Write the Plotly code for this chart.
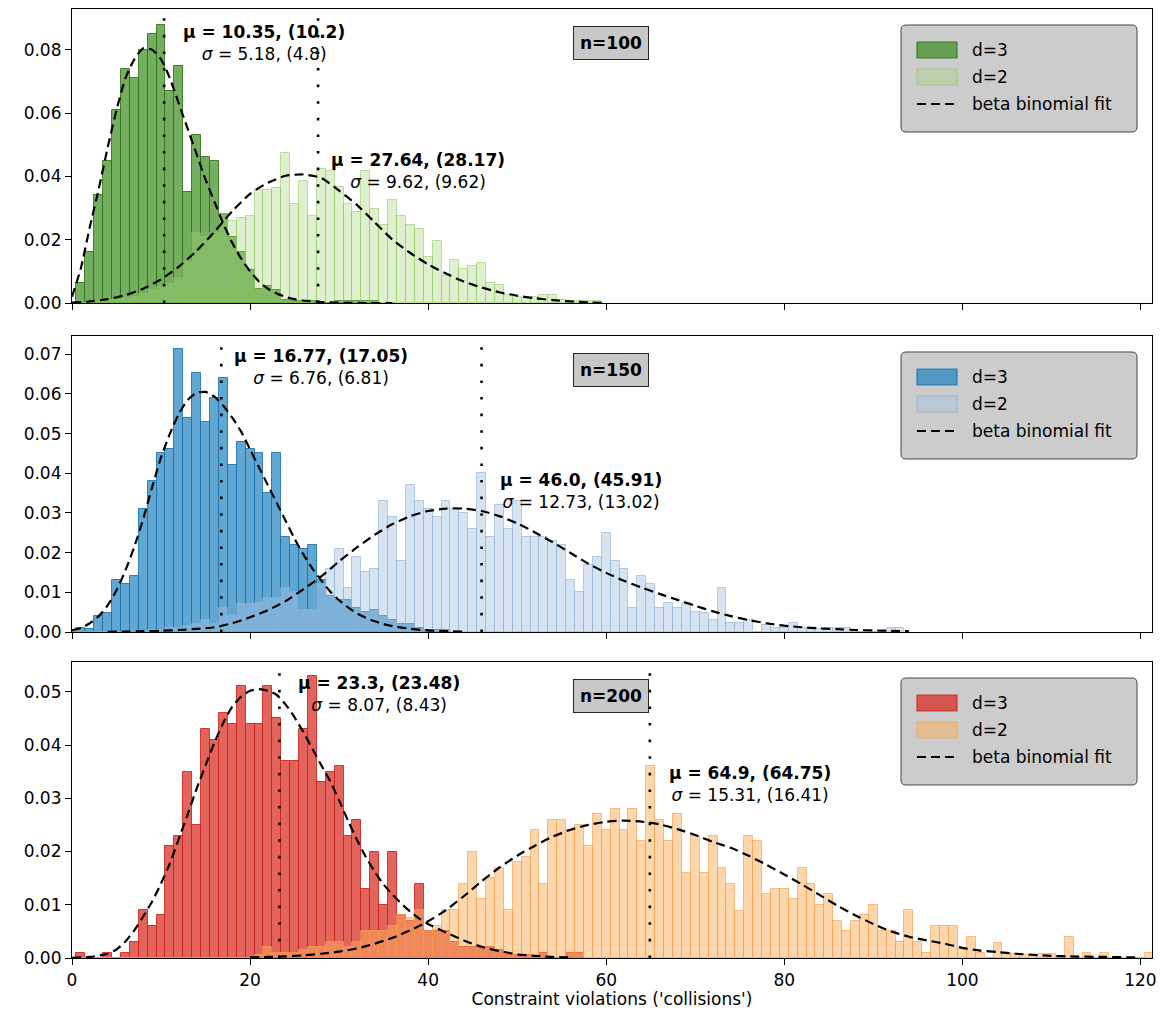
import plotly.graph_objects as go

# ---------------- data ----------------
# histogram heights per integer bin (bin k centred on k), k = 0, 1, 2, ...
p1_d3 = [0, 0.0063, 0.016, 0.034, 0.045, 0.061, 0.074, 0.071, 0.080, 0.085, 0.088, 0.067,
         0.075, 0.035, 0.053, 0.046, 0.045, 0.028, 0.021, 0.016, 0.0105, 0.0045, 0.0055,
         0.004, 0.001, 0.0006, 0.0006, 0.0006, 0, 0, 0.0006, 0.0006, 0.0006, 0.0006, 0.0006]
p1_d2 = [0, 0, 0, 0.0005, 0.001, 0.001, 0.0015, 0.002, 0.003, 0.004, 0.005, 0.006, 0.008,
         0.013, 0.022, 0.021, 0.022, 0.028, 0.026, 0.027, 0.0274, 0.0356, 0.0356, 0.0364,
         0.0475, 0.0314, 0.0384, 0.0276, 0.0424, 0.0416, 0.0366, 0.0314, 0.0287, 0.0416,
         0.0296, 0.0245, 0.0324, 0.0274, 0.0245, 0.0234, 0.0146, 0.0196, 0.0085, 0.0135,
         0.0106, 0.0117, 0.0125, 0.0064, 0.0056, 0.0025, 0.002, 0.0015, 0.002, 0.0025,
         0.0025, 0.001, 0.0005, 0.0005, 0.0005, 0.0005]
p2_d3 = [0, 0.0009, 0.0007, 0.004, 0.0049, 0.013, 0.012, 0.014, 0.031, 0.038, 0.045, 0.046,
         0.0713, 0.054, 0.0653, 0.053, 0.059, 0.064, 0.042, 0.048, 0.046, 0.045, 0.035,
         0.045, 0.024, 0.022, 0.021, 0.022, 0.013, 0.009, 0.008, 0.008, 0.006, 0.005,
         0.0055, 0.004, 0.003, 0.002, 0.002, 0.001, 0.0005, 0.0005, 0.0005]
p2_d2 = [0, 0, 0, 0, 0, 0, 0, 0, 0, 0.0005, 0.0005, 0.001, 0.001, 0.0015, 0.002, 0.003,
         0.002, 0.006, 0.004, 0.007, 0.007, 0.0072, 0.0085, 0.0085, 0.011, 0.010, 0.0055,
         0.0055, 0.012, 0.016, 0.021, 0.011, 0.019, 0.015, 0.016, 0.033, 0.029, 0.018,
         0.037, 0.033, 0.031, 0.029, 0.033, 0.031, 0.030, 0.026, 0.040, 0.024, 0.032,
         0.026, 0.033, 0.024, 0.024, 0.024, 0.023, 0.022, 0.013, 0.010, 0.017, 0.019,
         0.025, 0.018, 0.016, 0.006, 0.014, 0.012, 0.006, 0.0072, 0.006, 0.0072, 0.005,
         0.0047, 0.003, 0.011, 0.0022, 0.0022, 0.003, 0, 0.0018, 0.0009, 0.0009, 0.0022,
         0.001, 0.0008, 0.0008, 0.0009, 0.0009, 0.0009, 0, 0, 0, 0, 0.001, 0.001]
p3_d3 = [0, 0.0009, 0, 0, 0.0009, 0, 0.0009, 0.003, 0.009, 0.006, 0.008, 0.021, 0.023,
         0.035, 0.025, 0.043, 0.041, 0.046, 0.044, 0.051, 0.044, 0.044, 0.051, 0.045,
         0.037, 0.037, 0.043, 0.053, 0.033, 0.035, 0.036, 0.023, 0.026, 0.013, 0.020,
         0.010, 0.020, 0.008, 0.007, 0.0139, 0.005, 0.005, 0.005, 0.003, 0.002, 0.002,
         0.002, 0.002, 0.0015, 0.0005, 0.0005, 0.0005, 0, 0.001, 0, 0, 0.001, 0.001]
p3_d2 = [0, 0, 0, 0, 0, 0, 0, 0, 0, 0, 0, 0, 0, 0, 0, 0, 0, 0, 0, 0, 0, 0.0005, 0.002,
         0.001, 0.001, 0.001, 0.0015, 0.002, 0.002, 0.003, 0.003, 0.002, 0.003, 0.005,
         0.005, 0.005, 0.006, 0.008, 0.0075, 0.009, 0.005, 0.006, 0.009, 0.009, 0.0139,
         0.020, 0.011, 0.015, 0.017, 0.009, 0.018, 0.019, 0.024, 0.0139, 0.026, 0.026,
         0.024, 0.025, 0.021, 0.027, 0.024, 0.028, 0.024, 0.028, 0.022, 0.036, 0.026,
         0.022, 0.027, 0.016, 0.023, 0.016, 0.023, 0.017, 0.0139, 0.0089, 0.023, 0.022,
         0.012, 0.013, 0.013, 0.011, 0.017, 0.0139, 0.010, 0.012, 0.007, 0.005, 0.007,
         0.008, 0.010, 0.005, 0.005, 0.003, 0.009, 0.003, 0.001, 0.006, 0.006, 0.006,
         0.0018, 0.0039, 0.001, 0, 0.0029, 0.0009, 0.0008, 0.0005, 0.0005, 0.0008, 0.0008,
         0.0003, 0.0039, 0, 0.0009, 0, 0.0009, 0, 0, 0, 0, 0.0009]

# beta binomial fit curves
p1_fit3_x = [0, 1, 2, 3, 4, 5, 6, 7, 8, 9, 10, 11, 12, 13, 14, 15, 16, 17, 18, 19, 20, 21,
             22, 23, 24, 25, 26, 28, 30, 33, 36]
p1_fit3_y = [0.002, 0.011, 0.024, 0.036, 0.049, 0.061, 0.071, 0.077, 0.0805, 0.080, 0.077,
             0.071, 0.063, 0.055, 0.047, 0.039, 0.032, 0.025, 0.019, 0.014, 0.010, 0.0068,
             0.0045, 0.0030, 0.0019, 0.0012, 0.0008, 0.0003, 0.0001, 0.0, 0.0]
p1_fit2_x = [0, 2, 4, 6, 8, 10, 12, 14, 16, 18, 20, 22, 24, 26, 28, 30, 32, 34, 36, 38, 40,
             42, 44, 46, 48, 50, 52, 54, 56, 58, 60]
p1_fit2_y = [0.0001, 0.0005, 0.0012, 0.0025, 0.0045, 0.0075, 0.0115, 0.0165, 0.0225, 0.029,
             0.0345, 0.038, 0.0402, 0.0406, 0.0395, 0.0355, 0.031, 0.0255, 0.020, 0.0158,
             0.0122, 0.0093, 0.0068, 0.0049, 0.0034, 0.0023, 0.0015, 0.0009, 0.0005, 0.0002, 0.0]
p2_fit3_x = [0, 1, 2, 3, 4, 5, 6, 7, 8, 9, 10, 11, 12, 13, 14, 15, 16, 17, 18, 19, 20, 21,
             22, 23, 24, 25, 26, 27, 28, 29, 30, 31, 32, 33, 34, 35, 36, 38, 40, 42, 44]
p2_fit3_y = [0.0004, 0.001, 0.0022, 0.004, 0.0067, 0.0105, 0.0155, 0.0215, 0.0285, 0.0365,
             0.044, 0.050, 0.055, 0.0585, 0.0603, 0.0605, 0.0593, 0.057, 0.054, 0.0505,
             0.046, 0.0415, 0.037, 0.0325, 0.028, 0.0235, 0.0195, 0.016, 0.013, 0.0102,
             0.008, 0.0062, 0.0047, 0.0036, 0.0027, 0.002, 0.0015, 0.0008, 0.0004, 0.0002, 0.0001]
p2_fit2_x = [4, 6, 8, 10, 12, 14, 16, 18, 20, 22, 24, 26, 28, 30, 32, 34, 36, 38, 40, 42, 44,
             46, 48, 50, 52, 54, 56, 58, 60, 62, 64, 66, 68, 70, 72, 74, 76, 78, 80, 82, 84,
             86, 88, 90, 92, 94]
p2_fit2_y = [0.00005, 0.0001, 0.0002, 0.0003, 0.0005, 0.0008, 0.0012, 0.0022, 0.0037, 0.0055,
             0.0078, 0.0108, 0.014, 0.0178, 0.0213, 0.0245, 0.0272, 0.0292, 0.0305, 0.0311,
             0.0311, 0.0305, 0.0292, 0.0274, 0.0251, 0.0226, 0.0199, 0.0172, 0.0149, 0.0129,
             0.0112, 0.0096, 0.0081, 0.0066, 0.0052, 0.004, 0.003, 0.0022, 0.0016, 0.0012,
             0.0009, 0.0007, 0.0005, 0.0004, 0.0003, 0.0002]
p3_fit3_x = [0, 2, 4, 5, 6, 7, 8, 9, 10, 11, 12, 13, 14, 15, 16, 17, 18, 19, 20, 21, 22, 23,
             24, 25, 26, 27, 28, 29, 30, 31, 32, 33, 34, 35, 36, 37, 38, 39, 40, 42, 44, 46,
             48, 50, 52, 54, 56]
p3_fit3_y = [0.00005, 0.0002, 0.0008, 0.0016, 0.0031, 0.0052, 0.0078, 0.0106, 0.014, 0.0178,
             0.0224, 0.027, 0.0318, 0.0362, 0.0405, 0.0442, 0.0472, 0.0491, 0.0502, 0.0505,
             0.0502, 0.0494, 0.0476, 0.0452, 0.0424, 0.0393, 0.0362, 0.0332, 0.0296, 0.0258,
             0.0222, 0.019, 0.0162, 0.0138, 0.0119, 0.0102, 0.0087, 0.0074, 0.0064, 0.0048,
             0.0033, 0.0021, 0.0013, 0.0007, 0.0004, 0.0002, 0.0001]
p3_fit2_x = [20, 22, 24, 26, 28, 30, 32, 34, 36, 38, 40, 42, 44, 46, 48, 50, 52, 54, 56, 58,
             60, 62, 64, 66, 68, 70, 72, 74, 76, 78, 80, 82, 84, 86, 88, 90, 92, 94, 96, 98,
             100, 102, 104, 106, 108, 110, 112, 116, 120]
p3_fit2_y = [0.0001, 0.0002, 0.0003, 0.0005, 0.0008, 0.0012, 0.0018, 0.0027, 0.0038, 0.0052,
             0.0069, 0.009, 0.0116, 0.0144, 0.017, 0.0192, 0.0211, 0.0228, 0.0241, 0.025,
             0.0256, 0.0258, 0.0256, 0.0251, 0.0242, 0.0231, 0.0218, 0.0207, 0.0192, 0.0175,
             0.0157, 0.0138, 0.0118, 0.0098, 0.008, 0.0064, 0.005, 0.004, 0.0033, 0.0027,
             0.0019, 0.0014, 0.0011, 0.0008, 0.0006, 0.0004, 0.0003, 0.0002, 0.0001]

# statistics: (mean, fitted mean, std, fitted std)
p1_stats3 = (10.35, 10.2, 5.18, 4.8)
p1_stats2 = (27.64, 28.17, 9.62, 9.62)
p2_stats3 = (16.77, 17.05, 6.76, 6.81)
p2_stats2 = (46.0, 45.91, 12.73, 13.02)
p3_stats3 = (23.3, 23.48, 8.07, 8.43)
p3_stats2 = (64.9, 64.75, 15.31, 16.41)

n_labels = ["n=100", "n=150", "n=200"]
series_names = ["d=3", "d=2"]
fit_name = "beta binomial fit"
x_ticks = [0, 20, 40, 60, 80, 100, 120]
x_title = "Constraint violations ('collisions')"

# ---------------- layout / style ----------------
FONT = "DejaVu Sans"
FS = 17
OFF = 8                       # default page body margin of the html page
WIN_W, WIN_H = 1169, 1017
W, H = WIN_W - 2 * OFF, WIN_H - 2 * OFF
PLOT_X0, PLOT_X1 = 72, 1152   # plot area in window pixels
PLOT_Y0, PLOT_Y1 = 9, 958
ML = PLOT_X0 - OFF
MR = W - (PLOT_X1 - OFF)
MT = PLOT_Y0 - OFF
MB = H - (PLOT_Y1 - OFF)
PW = W - ML - MR
PH = H - MT - MB
panel_px = [(9, 303), (336, 632), (662, 958)]   # (top, bottom) window pixel rows
y_tops = [0.0929, 0.0746, 0.0556]
y_dticks = [0.02, 0.01, 0.01]
X_RANGE = [0, 121.3]
ANN_DX = 11.2

styles = [
    dict(c3="rgba(60,140,30,0.70)", e3="rgba(45,115,20,0.85)",
         c2="rgba(161,212,112,0.35)", e2="rgba(140,200,95,0.55)"),
    dict(c3="rgba(30,130,190,0.70)", e3="rgba(25,115,175,0.85)",
         c2="rgba(164,193,224,0.45)", e2="rgba(140,175,215,0.6)"),
    dict(c3="rgba(215,40,30,0.72)", e3="rgba(205,35,25,0.85)",
         c2="rgba(251,173,89,0.50)", e2="rgba(245,160,80,0.65)"),
]

panels = [
    (p1_d3, p1_d2, (p1_fit3_x, p1_fit3_y), (p1_fit2_x, p1_fit2_y), p1_stats3, p1_stats2),
    (p2_d3, p2_d2, (p2_fit3_x, p2_fit3_y), (p2_fit2_x, p2_fit2_y), p2_stats3, p2_stats2),
    (p3_d3, p3_d2, (p3_fit3_x, p3_fit3_y), (p3_fit2_x, p3_fit2_y), p3_stats3, p3_stats2),
]


def px2paper(px, py):
    """window pixel -> paper fraction"""
    return (px - PLOT_X0) / PW, (PLOT_Y1 - py) / PH


def P(a, b):
    x, y = px2paper(a, b)
    return f"{x:.5f},{y:.5f}"


fig = go.Figure()
shapes, annotations = [], []

for i, (d3, d2, f3, f2, s3, s2) in enumerate(panels):
    sfx = "" if i == 0 else str(i + 1)
    xa, ya = "x" + sfx, "y" + sfx
    st = styles[i]
    fig.add_trace(go.Bar(x=list(range(len(d3))), y=d3, width=1, name=series_names[0],
                         marker=dict(color=st["c3"], line=dict(color=st["e3"], width=1)),
                         xaxis=xa, yaxis=ya, showlegend=False))
    fig.add_trace(go.Bar(x=list(range(len(d2))), y=d2, width=1, name=series_names[1],
                         marker=dict(color=st["c2"], line=dict(color=st["e2"], width=1)),
                         xaxis=xa, yaxis=ya, showlegend=False))
    for fx, fy in (f3, f2):
        fig.add_trace(go.Scatter(x=fx, y=fy, mode="lines", name=fit_name,
                                 line=dict(color="black", width=2.2, dash="9px,5px",
                                           shape="spline", smoothing=0.6),
                                 xaxis=xa, yaxis=ya, showlegend=False))
    # mean lines + stats text
    for d, s in ((d3, s3), (d2, s2)):
        shapes.append(dict(type="line", xref=xa, yref=ya + " domain", x0=s[0], x1=s[0],
                           y0=0, y1=1, line=dict(color="black", width=2.6, dash="2.6px,14px")))
        annotations.append(dict(
            xref=xa, yref=ya, x=s[0] + ANN_DX, y=max(d), xanchor="center", yanchor="top",
            yshift=5, showarrow=False, align="center",
            text=f"<b>μ = {s[0]}, ({s[1]})</b><br><i>σ</i> = {s[2]}, ({s[3]})",
            font=dict(family=FONT, size=FS, color="black")))
    top, bot = panel_px[i]
    # n label
    nx, ny = px2paper(611, top + 34)
    annotations.append(dict(xref="paper", yref="paper", x=nx, y=ny, xanchor="center",
                            yanchor="middle", showarrow=False, text=f"<b>{n_labels[i]}</b>",
                            font=dict(family=FONT, size=FS, color="black"),
                            bgcolor="rgb(200,200,200)", bordercolor="rgb(40,40,40)",
                            borderwidth=1, borderpad=6))
    # legend box (rounded)
    bx0, bx1, by0, by1, r = 901, 1137, top + 16, top + 123, 5
    path = (f"M{P(bx0 + r, by0)} L{P(bx1 - r, by0)} Q{P(bx1, by0)} {P(bx1, by0 + r)} "
            f"L{P(bx1, by1 - r)} Q{P(bx1, by1)} {P(bx1 - r, by1)} L{P(bx0 + r, by1)} "
            f"Q{P(bx0, by1)} {P(bx0, by1 - r)} L{P(bx0, by0 + r)} Q{P(bx0, by0)} {P(bx0 + r, by0)} Z")
    shapes.append(dict(type="path", xref="paper", yref="paper", path=path,
                       fillcolor="rgb(204,204,204)", line=dict(color="rgb(70,70,70)", width=1)))
    for j, (c, e) in enumerate(((st["c3"], st["e3"]), (st["c2"], st["e2"]))):
        x0, y0 = px2paper(917, top + 33 + 27 * j)
        x1, y1 = px2paper(957, top + 49 + 27 * j)
        shapes.append(dict(type="rect", xref="paper", yref="paper", x0=x0, x1=x1, y0=y0, y1=y1,
                           fillcolor=c, line=dict(color=e, width=1.2)))
    lx0, ly = px2paper(917, top + 95)
    lx1, _ = px2paper(957, top + 95)
    shapes.append(dict(type="line", xref="paper", yref="paper", x0=lx0, x1=lx1, y0=ly, y1=ly,
                       line=dict(color="black", width=2.2, dash="9px,5px")))
    for j, label in enumerate(series_names + [fit_name]):
        tx, ty = px2paper(970, top + 41 + 27 * j)
        annotations.append(dict(xref="paper", yref="paper", x=tx, y=ty, xanchor="left",
                                yanchor="middle", showarrow=False, text=label,
                                font=dict(family=FONT, size=FS, color="black")))

    dom = [(PLOT_Y1 - bot) / PH, min(1.0, (PLOT_Y1 - top) / PH)]
    axis_common = dict(showline=True, linecolor="black", linewidth=1.2, mirror=True,
                       ticks="outside", ticklen=6, tickwidth=1.2, tickcolor="black",
                       showgrid=False, zeroline=False,
                       tickfont=dict(family=FONT, size=FS, color="black"))
    fig.update_layout(**{
        ("xaxis" + sfx): dict(axis_common, range=X_RANGE, tickvals=x_ticks,
                              showticklabels=(i == 2), anchor=ya, domain=[0, 1]),
        ("yaxis" + sfx): dict(axis_common, range=[0, y_tops[i]], dtick=y_dticks[i],
                              tickformat=".2f", anchor=xa, domain=dom),
    })

fig.update_layout(
    xaxis3=dict(title=dict(text=x_title, standoff=6,
                           font=dict(family=FONT, size=FS, color="black"))),
    width=W, height=H, margin=dict(l=ML, r=MR, t=MT, b=MB, autoexpand=False),
    barmode="overlay", bargap=0, showlegend=False,
    plot_bgcolor="white", paper_bgcolor="white",
    font=dict(family=FONT, size=FS, color="black"),
    shapes=shapes, annotations=annotations,
)

fig.write_html("out.html")
